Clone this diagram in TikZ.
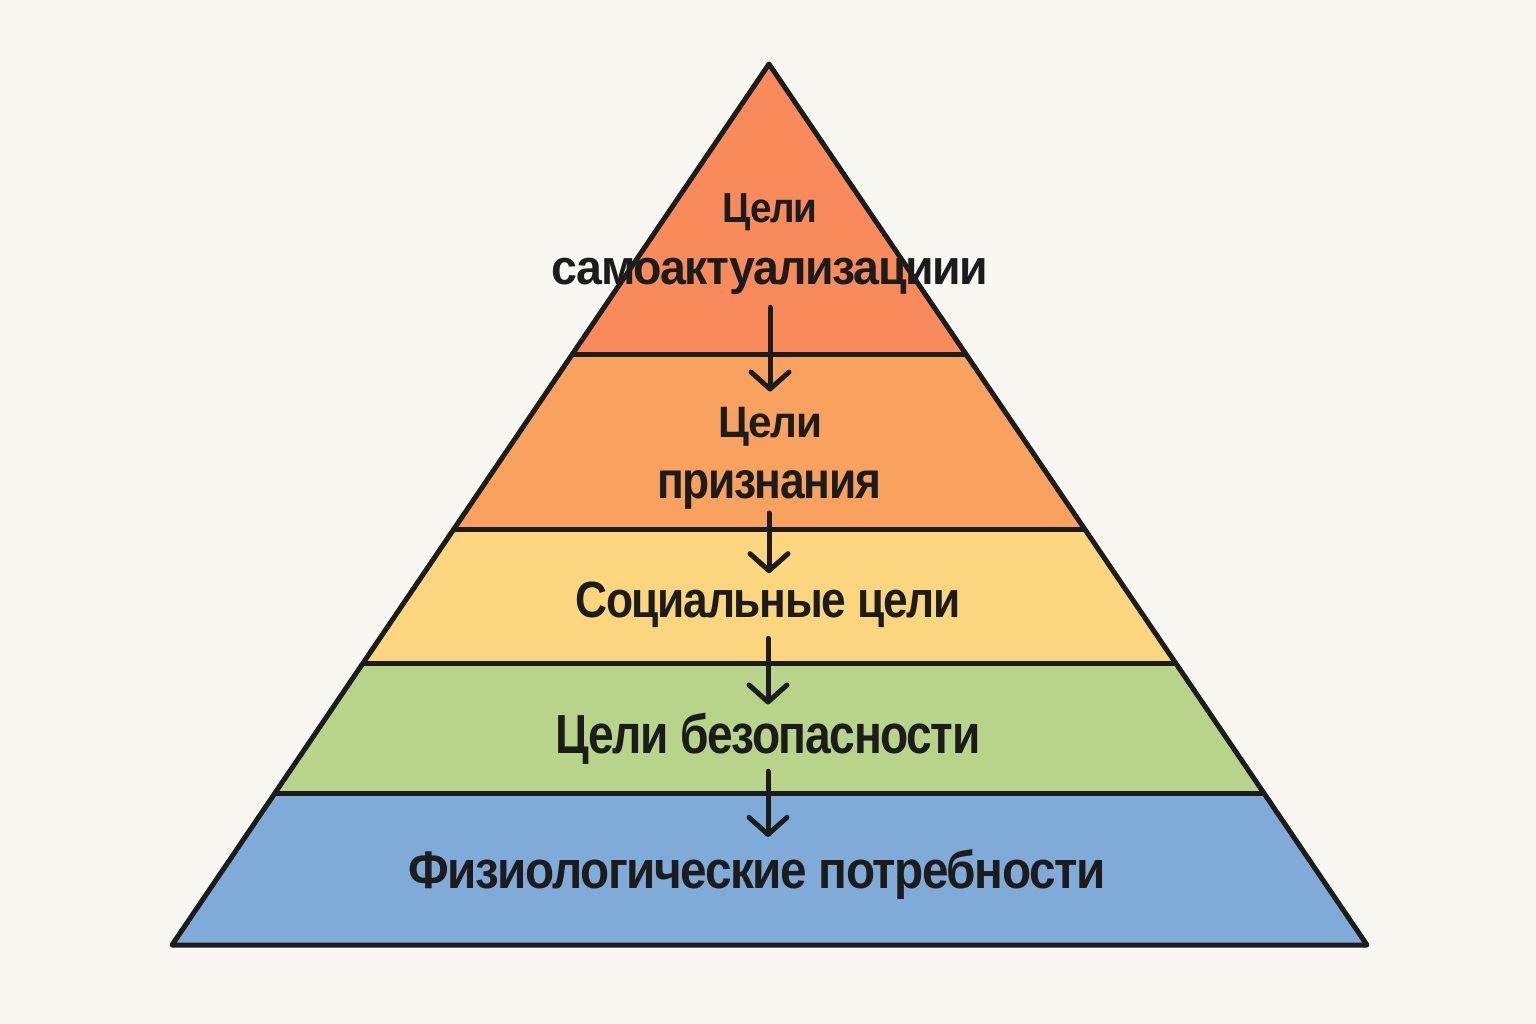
\documentclass[tikz,border=0pt]{standalone}
\usepackage{fontspec}
\usepackage{graphicx}
\setmainfont{Liberation Sans}
\newfontfamily\lblfont{Liberation Sans}[LetterSpace=-3]
\usetikzlibrary{arrows.meta}
\definecolor{bg}{HTML}{F8F7F2}
\definecolor{ink}{HTML}{1C1C1C}
\definecolor{cA}{HTML}{F98A5B}
\definecolor{cB}{HTML}{F9A15F}
\definecolor{cC}{HTML}{FCD67F}
\definecolor{cD}{HTML}{B8D38A}
\definecolor{cE}{HTML}{80AAD8}
\newcommand\fitt[3]{\resizebox{#1pt}{\height}{\lblfont\fontsize{#2}{#2}\selectfont\bfseries #3}}
\begin{document}
\begin{tikzpicture}[x=1pt,y=-1pt,
  lbl/.style={inner sep=0pt, anchor=base, text=ink},
  edge/.style={draw=ink, line width=5pt, line join=round},
  arr/.style={draw=ink, line width=5pt, line cap=round,
    -{Straight Barb[length=17pt,width=38pt,line cap=round,line join=round]}},
]
\useasboundingbox (0,0) rectangle (1536,1024);
\fill[bg] (0,0) rectangle (1536,1024);
\coordinate (apex) at (769,64);
\coordinate (bl) at (172,945);
\coordinate (br) at (1367,945);
\begin{scope}
  \clip (apex) -- (bl) -- (br) -- cycle;
  \fill[cA] (0,0) rectangle (1536,354);
  \fill[cB] (0,354) rectangle (1536,529);
  \fill[cC] (0,529) rectangle (1536,663);
  \fill[cD] (0,663) rectangle (1536,793);
  \fill[cE] (0,793) rectangle (1536,1024);
  \draw[edge] (0,354) -- (1536,354);
  \draw[edge] (0,529) -- (1536,529);
  \draw[edge] (0,663) -- (1536,663);
  \draw[edge] (0,793) -- (1536,793);
\end{scope}
\draw[edge] (apex) -- (bl) -- (br) -- cycle;

\node[lbl] (t1) at (770,223) {\fitt{95}{42}{Цели}};
\node[lbl] (t2) at (770,284) {\fitt{437}{49}{самоактуализациии}};
\node[lbl] (t3) at (770,437) {\fitt{104}{44}{Цели}};
\node[lbl] (t4) at (769,498) {\fitt{224}{52}{признания}};
\node[lbl] (t5) at (768,617) {\fitt{385}{51}{Социальные цели}};
\node[lbl] (t6) at (768,753) {\fitt{425}{55}{Цели безопасности}};
\node[lbl] (t7) at (757,888) {\fitt{697}{53}{Физиологические потребности}};

\draw[arr, shorten <=13pt, shorten >=15pt] (t2.south) -- (t2.south |- t3.north);
\draw[arr, shorten <=4pt, shorten >=8pt] (t4.south) -- (t4.south |- t5.north);
\draw[arr, shorten <=11pt, shorten >=8pt] (t5.south) -- (t5.south |- t6.north);
\draw[arr, shorten <=7pt, shorten >=12pt] (t6.south) -- (t6.south |- t7.north);
\end{tikzpicture}
\end{document}
